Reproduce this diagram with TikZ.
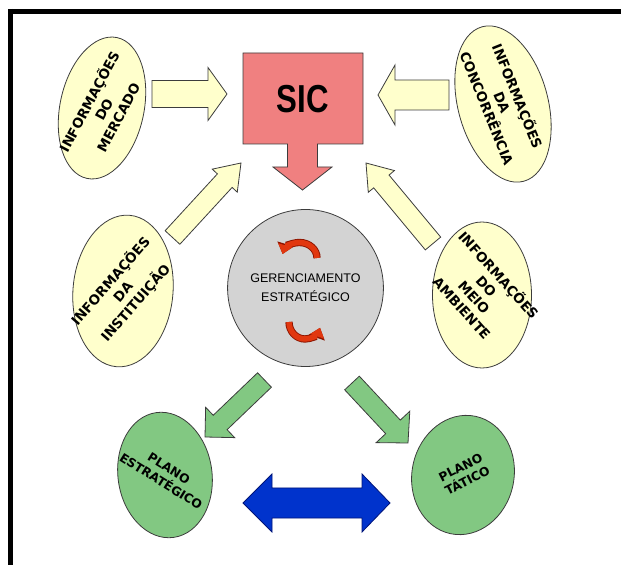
\documentclass[tikz,border=0pt]{standalone}
\usepackage{fontspec}
\usetikzlibrary{shapes.geometric,calc,arrows.meta}
\newfontfamily\labfont{DejaVu Sans}
\newfontfamily\gerfont{Liberation Sans}
\definecolor{yel}{RGB}{255,255,204}
\definecolor{sicred}{RGB}{240,128,128}
\definecolor{gerg}{RGB}{211,211,211}
\definecolor{grn}{RGB}{130,200,130}
\definecolor{blu}{RGB}{0,51,204}
\definecolor{edge}{RGB}{60,60,60}
\definecolor{arcred}{RGB}{225,55,15}
\definecolor{arcdark}{RGB}{140,20,0}
% block arrow: style, tail, tip, shaft half width, head half width, head length
\newcommand{\blockarr}[6]{%
  \coordinate (bab) at ($(#3)!#6!(#2)$);
  \filldraw[#1] ($(#2)!#4!-90:(#3)$) -- ($(bab)!#4!-90:(#3)$) -- ($(bab)!#5!-90:(#3)$)
    -- (#3) -- ($(bab)!#5!90:(#3)$) -- ($(bab)!#4!90:(#3)$) -- ($(#2)!#4!90:(#3)$) -- cycle;}
\tikzset{
  infoell/.style={ellipse, draw=edge, line width=0.8pt, fill=yel, inner sep=0pt},
  greenell/.style={ellipse, draw=edge, line width=0.8pt, fill=grn, inner sep=0pt},
  lab/.style={font=\labfont\bfseries\fontsize{13.5}{16.5}\selectfont, align=center, inner sep=0pt},
  smalllab/.style={font=\labfont\bfseries\fontsize{12.3}{15}\selectfont, align=center, inner sep=0pt},
  yarrow/.style={fill=yel, draw=edge, line width=0.8pt, line join=miter},
  garrow/.style={fill=grn, draw=edge, line width=0.8pt, line join=miter},
  circarrow/.style={line width=5.5pt, arcred, -{Triangle[width=14pt,length=9pt]}},
  circarrowedge/.style={line width=7.3pt, arcdark, -{Triangle[width=16.5pt,length=10.5pt]}},
}
\begin{document}
\begin{tikzpicture}[x=1pt,y=1pt]
\useasboundingbox (0,0) rectangle (621,565);
% ellipses
\node[infoell, minimum width=84, minimum height=144, rotate=-12] (mercado) at (102,457) {};
\node[lab, rotate=62] (mercadotxt) at (103,456) {INFORMAÇÕES\\DO\\MERCADO};
\node[infoell, minimum width=90, minimum height=160, rotate=15] (concor) at (503,461) {};
\node[lab, rotate=-68] (concortxt) at (503,463) {INFORMAÇÕES\\DA\\CONCORRÊNCIA};
\node[infoell, minimum width=100, minimum height=152, rotate=-5] (instit) at (123,274) {};
\node[lab, rotate=49] (instittxt) at (123,273) {INFORMAÇÕES\\DA\\INSTITUIÇÃO};
\node[infoell, minimum width=99, minimum height=146] (meio) at (482,270) {};
\node[lab, rotate=-48] (meiotxt) at (481,274) {INFORMAÇÕES\\DO\\MEIO\\AMBIENTE};
\node[ellipse, draw=edge, line width=0.8pt, fill=gerg, minimum width=125, minimum height=157, inner sep=0pt,
      font=\gerfont\fontsize{12.5}{19}\selectfont, align=center] (ger) at (305.5,277) {GERENCIAMENTO\\ESTRATÉGICO};
\node[greenell, minimum width=94, minimum height=126, rotate=8] (plest) at (165,90) {};
\node[smalllab, rotate=-32] (plesttxt) at (165,90) {PLANO\\ESTRATÉGICO};
\node[greenell, minimum width=102, minimum height=120, rotate=-12] (pltat) at (463,90) {};
\node[smalllab, rotate=27] (pltattxt) at (464,91) {PLANO\\TÁTICO};
% SIC box with down arrow
\filldraw[fill=sicred, draw=edge, line width=0.8pt, line join=miter]
  (243,512) -- (363,512) -- (363,421) -- (317.5,421) -- (317.5,398) -- (332,398) -- (302.5,375)
  -- (273,398) -- (287.5,398) -- (287.5,421) -- (243,421) -- cycle;
\node[font=\gerfont\bfseries\fontsize{39}{39}\selectfont, xscale=0.8, inner sep=0pt] (sic) at (303,466) {SIC};
% yellow arrows
\coordinate (a1t) at (152,471); \coordinate (a1h) at (227,471);
\coordinate (a2t) at (449,470); \coordinate (a2h) at (378,470);
\coordinate (a3t) at (172.5,327.5); \coordinate (a3h) at (241,402);
\coordinate (a4t) at (433,321.5); \coordinate (a4h) at (366,402);
\blockarr{yarrow}{a1t}{a1h}{13.5pt}{26.5pt}{19pt}
\blockarr{yarrow}{a2t}{a2h}{15pt}{30pt}{17pt}
\blockarr{yarrow}{a3t}{a3h}{10pt}{17pt}{24pt}
\blockarr{yarrow}{a4t}{a4h}{10pt}{17pt}{24pt}
% green arrows
\coordinate (g1t) at (264.5,185); \coordinate (g1h) at (205,128);
\coordinate (g2t) at (352,182); \coordinate (g2h) at (408,122);
\blockarr{garrow}{g1t}{g1h}{10pt}{21pt}{21pt}
\blockarr{garrow}{g2t}{g2h}{10pt}{23pt}{22pt}
% blue double arrow
\coordinate (bl) at (243,62); \coordinate (br) at (390,62);
\filldraw[fill=blu, draw={rgb,255:red,0;green,20;blue,120}, line width=0.8pt, line join=miter]
  (bl) -- ($(bl)+(29,29)$) -- ($(bl)+(29,15)$) -- ($(br)+(-28,15)$) -- ($(br)+(-28,29)$) -- (br)
  -- ($(br)+(-28,-29)$) -- ($(br)+(-28,-15)$) -- ($(bl)+(29,-15)$) -- ($(bl)+(29,-29)$) -- cycle;
% circular arrows inside the grey ellipse
\draw[circarrowedge] (317,307) arc[start angle=0, end angle=165, x radius=17.5, y radius=15.5];
\draw[circarrow] (317,307) arc[start angle=0, end angle=165, x radius=17.5, y radius=15.5];
\draw[circarrowedge] (289,243) arc[start angle=180, end angle=340, x radius=16, y radius=17];
\draw[circarrow] (289,243) arc[start angle=180, end angle=340, x radius=16, y radius=17];
% frame
\draw[line width=5pt] (8,553.5) -- (621,553.5);
\draw[line width=5pt] (10.5,556) -- (10.5,0);
\end{tikzpicture}
\end{document}
